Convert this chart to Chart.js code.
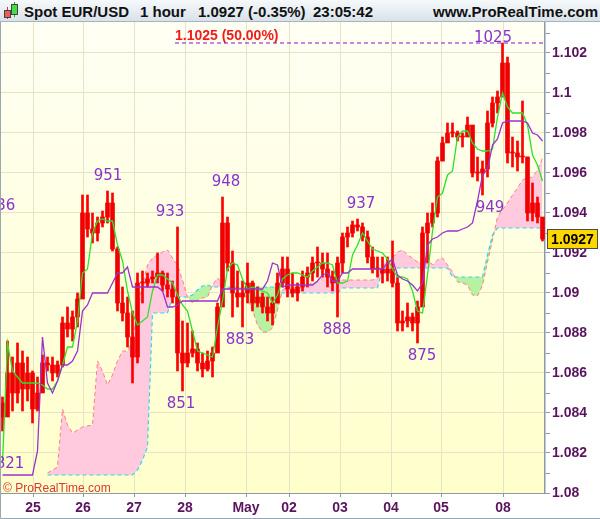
<!DOCTYPE html>
<html>
<head>
<meta charset="utf-8">
<script src="https://cdn.jsdelivr.net/npm/chart.js@4.4.0/dist/chart.umd.min.js"></script>
<style>
  html, body { margin: 0; padding: 0; background: #fff; }
  #wrap { position: relative; width: 600px; height: 519px; overflow: hidden; }
  #chart { position: absolute; left: 0; top: 0; }
  #head { position: absolute; left: 0; top: 0; width: 600px; height: 21px;
          background: linear-gradient(#f6f9fb, #d9e2e9); border-bottom: 1px solid #a7b3bd;
          font: bold 15px "Liberation Sans", Arial, sans-serif; color: #111; }
  #head span { position: absolute; top: 3px; white-space: nowrap; line-height: 17px; }
  .wick { position: absolute; width: 1px; }
  .body { position: absolute; width: 5px; border: 1px solid #444; }
</style>
</head>
<body>
<div id="wrap">
  <canvas id="chart" width="600" height="519"></canvas>
  <div id="head">
    <div class="wick" style="left:7px;top:7px;height:12px;background:#c33"></div>
    <div class="body" style="left:4px;top:10px;height:6px;background:#f05a5a"></div>
    <div class="wick" style="left:14px;top:2px;height:15px;background:#393"></div>
    <div class="body" style="left:11px;top:4px;height:9px;background:#44dd44"></div>
    <span style="left:24px">Spot EUR/USD</span>
    <span style="left:140px">1 hour</span>
    <span style="left:198px">1.0927 (-0.35%)</span>
    <span style="left:313px">23:05:42</span>
    <span style="left:433px">www.ProRealTime.com</span>
  </div>
</div>
<script>
// prices in pips: 927 means 1.0927, one bar every two hours or so
const high = [848, 876, 868, 875, 871, 868, 861, 858, 869, 868,
  868, 866, 888, 893, 891, 900, 949, 949, 940, 938,
  941, 951, 950, 923, 903, 898, 891, 910, 911, 910,
  911, 920, 911, 910, 906, 933, 886, 885, 881, 875,
  870, 871, 873, 895, 948, 938, 921, 911, 906, 915,
  906, 903, 900, 898, 898, 910, 918, 918, 910, 905,
  911, 913, 918, 923, 920, 920, 911, 918, 930, 933,
  936, 937, 935, 931, 923, 918, 918, 918, 926, 908,
  891, 895, 890, 896, 933, 940, 945, 968, 978, 985,
  985, 981, 980, 988, 981, 968, 966, 991, 998, 1001,
  1025, 1018, 978, 976, 996, 968, 955, 948, 935];
const low = [831, 841, 841, 845, 841, 846, 835, 841, 855, 861,
  856, 858, 863, 878, 876, 883, 905, 928, 925, 926,
  933, 935, 921, 891, 886, 873, 855, 865, 895, 903,
  905, 905, 901, 898, 895, 861, 851, 863, 868, 861,
  858, 861, 858, 871, 895, 911, 888, 893, 883, 895,
  891, 893, 890, 886, 884, 895, 903, 898, 898, 896,
  901, 903, 906, 908, 908, 903, 901, 888, 910, 923,
  928, 931, 926, 915, 910, 908, 905, 906, 903, 881,
  881, 883, 881, 875, 896, 915, 933, 938, 966, 976,
  978, 976, 973, 981, 958, 956, 949, 958, 983, 990,
  1011, 965, 963, 961, 965, 936, 936, 935, 926];
const open = [845, 838, 860, 850, 865, 852, 860, 842, 850, 865,
  864, 860, 864, 885, 882, 888, 897, 940, 932, 930,
  935, 938, 945, 922, 895, 890, 878, 868, 905, 905,
  907, 908, 910, 904, 902, 898, 870, 865, 870, 872,
  865, 862, 866, 870, 893, 935, 915, 900, 898, 900,
  905, 895, 898, 893, 890, 895, 905, 912, 902, 900,
  903, 908, 910, 915, 915, 912, 908, 905, 915, 928,
  930, 934, 933, 928, 918, 912, 912, 910, 912, 905,
  885, 886, 888, 885, 893, 930, 935, 940, 966, 975,
  980, 980, 978, 978, 984, 960, 960, 962, 985, 995,
  998, 1015, 970, 970, 968, 968, 940, 945, 938];
const close = [838, 860, 850, 865, 852, 860, 842, 850, 865, 864,
  860, 864, 885, 882, 888, 897, 940, 932, 930, 935,
  938, 945, 922, 895, 890, 878, 868, 905, 905, 907,
  908, 910, 904, 902, 898, 870, 865, 870, 872, 865,
  862, 866, 870, 893, 935, 915, 900, 898, 900, 905,
  895, 898, 893, 890, 895, 905, 912, 902, 900, 903,
  908, 910, 915, 915, 912, 908, 905, 915, 928, 930,
  934, 933, 928, 918, 912, 912, 910, 912, 905, 885,
  886, 888, 885, 893, 930, 935, 940, 966, 975, 980,
  980, 978, 978, 984, 960, 960, 962, 985, 995, 998,
  1015, 970, 970, 968, 968, 940, 945, 938, 927];

// ichimoku lines
const tenkan = [815, 875, 861, 858, 855, 855, 855, 855, 854, 852,
  852, 856, 864, 873, 873, 886, 910, 912, 930, 936,
  937, 936, 936, 924, 916, 901, 890, 884, 886, 888,
  901, 909, 909, 907, 905, 899, 894, 891, 881, 871,
  870, 869, 868, 883, 896, 912, 915, 914, 907, 902,
  903, 902, 901, 900, 895, 899, 907, 909, 910, 910,
  909, 908, 911, 913, 915, 915, 914, 905, 905, 906,
  919, 924, 930, 926, 922, 921, 920, 917, 912, 908,
  908, 907, 901, 891, 890, 909, 931, 948, 950, 959,
  961, 978, 981, 981, 975, 972, 971, 971, 972, 988,
  1000, 993, 990, 990, 990, 984, 969, 964, 956];
const kijun = [809, 809, 809, 809, 809, 809, 809, 821, 878, 855,
  850, 856, 864, 864, 866, 871, 891, 894, 900, 900,
  900, 900, 905, 910, 910, 913, 903, 903, 903, 903,
  903, 903, 901, 893, 893, 894, 896, 896, 896, 896,
  896, 896, 896, 896, 902, 902, 902, 902, 902, 902,
  902, 902, 902, 906, 915, 914, 903, 904, 904, 904,
  904, 904, 904, 906, 909, 910, 906, 906, 910, 910,
  912, 912, 912, 912, 912, 912, 912, 915, 917, 909,
  907, 906, 904, 901, 905, 924, 927, 928, 930, 931,
  931, 931, 932, 933, 935, 946, 959, 962, 974, 977,
  985, 986, 986, 986, 986, 985, 980, 979, 976];
const spanA = [null, null, null, null, null, null, null, null, null, 810,
  811.5, 813, 842, 834, 830, 831.5, 833, 833.5, 834, 866,
  861, 854, 859, 866, 871, 871, 876, 891, 904, 914,
  917.5, 919, 920.5, 921.5, 917.5, 914, 906.5, 898, 895, 896.5,
  897.5, 898, 904, 907.5, 905, 902.5, 902, 902.5, 901.5, 896.5,
  891.5, 884, 880.5, 880.5, 882.5, 891.5, 901.5, 903, 903, 903,
  903, 904, 905, 905.5, 907.5, 910.5, 907.5, 906.5, 906.5, 906.5,
  906.5, 906.5, 906.5, 906.5, 906.5, 907.5, 914, 915, 917.5, 920.5,
  921.5, 919, 917.5, 915.5, 915.5, 917.5, 914, 916.5, 917.5, 914,
  910.5, 905.5, 905, 904, 899, 898.5, 904, 915.5, 926.5, 938,
  941.5, 945, 949, 952.5, 956.5, 957.5, 958, 961.5, 967.5];
const spanB = [null, null, null, null, null, null, null, null, null, 809,
  809, 809, 809, 809, 809, 809, 809, 809, 809, 809,
  809, 809, 809, 809, 809, 809, 809, 811.5, 816.5, 823,
  890, 890, 890, 890, 898, 898, 898, 898, 899, 901.5,
  903.5, 904, 903, 903, 903, 903, 903, 903, 903, 903,
  903, 903, 903, 903, 903, 903, 900, 900, 900, 900,
  900, 900, 900, 900, 900, 900, 900, 900, 902.5, 902.5,
  902.5, 902.5, 902.5, 902.5, 902.5, 902.5, 912.5, 912.5, 912.5, 912.5,
  912.5, 912.5, 912.5, 912.5, 912.5, 912.5, 912.5, 912.5, 912.5, 912.5,
  908, 908, 908, 908, 908, 908, 908, 919, 929, 932.5,
  932.5, 932.5, 932.5, 932.5, 932.5, 932.5, 932.5, 932.5, 932.5];

// swing highs / lows written on the chart (x in bar units)
const extremeText = ['936', '951', '933', '851', '948', '883', '888', '937', '875', '949', '1025', '821'];
const extremeX = [0.2, 21.6, 34, 36.2, 45.2, 48, 67.4, 72.2, 84.4, 98, 98.6, 2];
const extremeKind = ['high', 'high', 'high', 'low', 'high', 'low', 'low', 'high', 'low', 'low', 'high', 'low'];

const retraceLevel = 1.1025;
const retraceStart = 35;

// axes
const dayTicks = [6.6, 16.6, 26.8, 37, 49.2, 57.8, 68, 78.2, 88.2, 100.6];
const dayLabels = ['25', '26', '27', '28', 'May', '02', '03', '04', '05', '08'];
const priceTicks = [1.080, 1.081, 1.082, 1.083, 1.084, 1.085, 1.086, 1.087, 1.088, 1.089,
  1.090, 1.091, 1.092, 1.093, 1.094, 1.095, 1.096, 1.097, 1.098, 1.099,
  1.100, 1.101, 1.102, 1.103];

const AXIS_FONT = '"Liberation Sans", Arial, sans-serif';
const gridColor = '#e7e3c6';
const frameColor = '#8d99a5';

function px(p) {
  return p == null ? null : 1 + p / 10000;
}
function series(arr) {
  return arr.map((p, i) => ({ x: i + 0.5, y: px(p) }));
}

const paperPlugin = {
  id: 'paper',
  beforeDraw(chart) {
    const { ctx, chartArea: a } = chart;
    const g = ctx.createLinearGradient(0, a.top, 0, a.bottom);
    g.addColorStop(0, '#fffff4');
    g.addColorStop(1, '#ffffcb');
    ctx.save();
    ctx.fillStyle = g;
    ctx.fillRect(a.left, a.top, a.right - a.left, a.bottom - a.top);
    ctx.restore();
  }
};

const notesPlugin = {
  id: 'notes',
  afterDatasetsDraw(chart) {
    const { ctx, chartArea: a, scales: { x, y } } = chart;
    ctx.save();
    ctx.beginPath();
    ctx.rect(a.left, a.top, a.right - a.left, a.bottom - a.top);
    ctx.clip();

    ctx.font = '15px "DejaVu Sans", sans-serif';
    ctx.fillStyle = '#8833cc';
    ctx.textAlign = 'center';
    ctx.textBaseline = 'middle';
    extremeText.forEach((t, i) => {
      const py = y.getPixelForValue(px(Number(t)));
      let ty = extremeKind[i] === 'high' ? py - 15 : py + 13;
      ty = Math.max(ty, a.top + 16);
      ctx.fillText(t, x.getPixelForValue(extremeX[i]), ty);
    });

    ctx.font = 'bold 14px ' + AXIS_FONT;
    ctx.fillStyle = '#ee1c1c';
    ctx.textAlign = 'left';
    ctx.textBaseline = 'alphabetic';
    ctx.fillText(retraceLevel.toFixed(4) + ' (50.00%)', x.getPixelForValue(retraceStart), y.getPixelForValue(retraceLevel) - 3);

    ctx.font = '12px ' + AXIS_FONT;
    ctx.fillStyle = '#d83a3a';
    ctx.fillText('\u00a9 ProRealTime.com', a.left + 3, a.bottom - 1);
    ctx.restore();
  },
  afterDraw(chart) {
    const { ctx, chartArea: a, scales: { y } } = chart;
    const last = close[close.length - 1];
    const py = Math.round(y.getPixelForValue(px(last)));
    ctx.save();
    ctx.fillStyle = '#ffd700';
    ctx.fillRect(a.right + 2, py - 10, 51, 20);
    ctx.strokeStyle = '#4a4a4a';
    ctx.lineWidth = 1;
    ctx.strokeRect(a.right + 2.5, py - 9.5, 50, 19);
    ctx.fillStyle = '#000';
    ctx.font = 'bold 14px ' + AXIS_FONT;
    ctx.textAlign = 'center';
    ctx.textBaseline = 'middle';
    ctx.fillText(px(last).toFixed(4), a.right + 27.5, py + 1);

    // outer frame
    ctx.strokeStyle = '#9aa6b0';
    ctx.beginPath();
    ctx.moveTo(0.5, 22);
    ctx.lineTo(0.5, 518.5);
    ctx.lineTo(600, 518.5);
    ctx.stroke();
    ctx.restore();
  }
};

const ctx = document.getElementById('chart').getContext('2d');
new Chart(ctx, {
  type: 'bar',
  data: {
    datasets: [
      {
        type: 'line',
        data: series(spanA),
        borderColor: '#ff7f7f',
        borderWidth: 1,
        borderDash: [4, 3],
        pointRadius: 0,
        fill: { target: 1, above: '#ffc9de', below: '#b6f2a2' },
        order: 10
      },
      {
        type: 'line',
        data: series(spanB),
        borderColor: '#2fd6ee',
        borderWidth: 1.2,
        borderDash: [4, 3],
        pointRadius: 0,
        fill: false,
        order: 9
      },
      {
        data: high.map((h, i) => ({ x: i + 0.5, y: [px(low[i]), px(h)] })),
        backgroundColor: '#ff0000',
        barThickness: 2,
        grouped: false,
        order: 6
      },
      {
        data: open.map((o, i) => ({ x: i + 0.5, y: [px(o), px(close[i])] })),
        backgroundColor: '#f00000',
        barThickness: 4,
        minBarLength: 1,
        grouped: false,
        order: 5
      },
      {
        type: 'line',
        data: series(tenkan),
        borderColor: '#2be22b',
        borderWidth: 1.3,
        pointRadius: 0,
        fill: false,
        order: 2
      },
      {
        type: 'line',
        data: series(kijun),
        borderColor: '#9933cc',
        borderWidth: 1.3,
        pointRadius: 0,
        fill: false,
        order: 1
      },
      {
        type: 'line',
        data: [{ x: retraceStart, y: retraceLevel }, { x: high.length, y: retraceLevel }],
        borderColor: '#8e10d0',
        borderWidth: 1,
        borderDash: [4, 3],
        pointRadius: 0,
        fill: false,
        order: 0
      }
    ]
  },
  options: {
    responsive: false,
    animation: false,
    devicePixelRatio: 1,
    events: [],
    layout: { padding: { top: 22, left: 0, right: 0, bottom: 0 } },
    plugins: { legend: { display: false }, tooltip: { enabled: false } },
    scales: {
      x: {
        type: 'linear',
        min: 0,
        max: high.length,
        offset: false,
        grid: { color: gridColor, offset: false, tickColor: frameColor, tickLength: 4 },
        border: { color: frameColor, width: 1 },
        afterBuildTicks: s => { s.ticks = dayTicks.map(v => ({ value: v })); },
        afterFit: s => { s.height = 26; },
        ticks: {
          autoSkip: false,
          maxRotation: 0,
          padding: 3,
          color: '#5a145e',
          font: { family: AXIS_FONT, size: 14, weight: 'bold' },
          callback: (v, i) => dayLabels[i]
        }
      },
      y: {
        type: 'linear',
        position: 'right',
        min: 1.08,
        max: 1.10355,
        grid: {
          color: c => (c.tick && Math.round(c.tick.value * 1000) % 2 === 0) ? gridColor : 'rgba(0,0,0,0)',
          tickColor: frameColor,
          tickLength: 5
        },
        border: { color: frameColor, width: 1.5 },
        afterBuildTicks: s => { s.ticks = priceTicks.map(v => ({ value: v })); },
        afterFit: s => { s.width = 55; },
        ticks: {
          autoSkip: false,
          padding: 2,
          color: '#5a145e',
          font: { family: AXIS_FONT, size: 14, weight: 'bold' },
          callback: v => {
            const k = Math.round(v * 1000);
            return k % 2 ? '' : String(k / 1000);
          }
        }
      }
    }
  },
  plugins: [paperPlugin, notesPlugin]
});
</script>
</body>
</html>
